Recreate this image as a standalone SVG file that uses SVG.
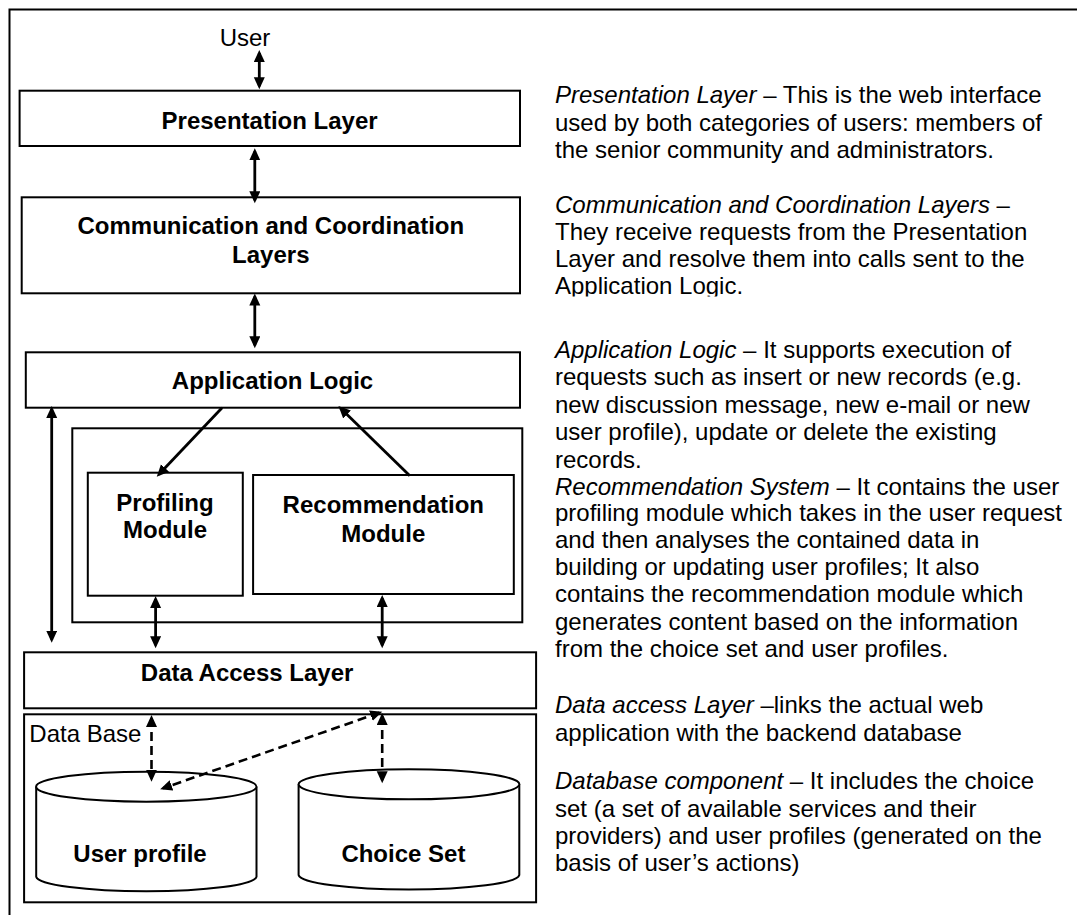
<svg xmlns="http://www.w3.org/2000/svg" width="1077" height="915" viewBox="0 0 1077 915">
  <style>
    text { font-family: "Liberation Sans", Arial, sans-serif; font-size: 24px; fill: #000; }
    .b { font-weight: bold; }
    .mid { text-anchor: middle; }
    .box { fill: #fff; stroke: #000; stroke-width: 2; }
    .frame { fill: none; stroke: #000; stroke-width: 2; }
    .arr { fill: none; stroke: #000; stroke-width: 2.8; marker-start: url(#head); marker-end: url(#head); }
    .one { fill: none; stroke: #000; stroke-width: 2.8; marker-end: url(#head); }
    .dash { fill: none; stroke: #000; stroke-width: 2.6; stroke-dasharray: 9 5; marker-start: url(#head); marker-end: url(#head); }
    .note { font-size: 24px; }
    .it { font-style: italic; }
  </style>
  <defs>
    <marker id="head" markerUnits="userSpaceOnUse" markerWidth="14" markerHeight="12" refX="9" refY="5.5" orient="auto-start-reverse">
      <path d="M0,0 L12,5.5 L0,11 z" fill="#000"/>
    </marker>
    <clipPath id="clipNote2">
      <rect x="540" y="180" width="537" height="116.5"/>
    </clipPath>
  </defs>

  <!-- outer frame (open to the right and bottom) -->
  <path class="frame" d="M9.5,915 V9.5 H1077"/>

  <!-- layers -->
  <g id="user">
    <text class="mid" x="245" y="45.7">User</text>
  </g>
  <g id="presentation-layer">
    <rect class="box" x="19.6" y="90.7" width="500.4" height="55.3"/>
    <text class="b mid" x="269.6" y="129.3">Presentation Layer</text>
  </g>
  <g id="communication-layers">
    <rect class="box" x="21.7" y="197.3" width="498.3" height="96"/>
    <text class="b mid" x="270.8" y="234.3">Communication and Coordination</text>
    <text class="b mid" x="270.8" y="263.3">Layers</text>
  </g>
  <g id="application-logic">
    <rect class="box" x="25.8" y="352.3" width="494.2" height="55.4"/>
    <text class="b mid" x="272.5" y="389.3">Application Logic</text>
  </g>
  <g id="recommendation-system">
    <rect class="box" x="72.3" y="428.3" width="450" height="194"/>
  </g>
  <g id="profiling-module">
    <rect class="box" x="87.8" y="472.7" width="155" height="123"/>
    <text class="b mid" x="165" y="510.7">Profiling</text>
    <text class="b mid" x="165" y="538.3">Module</text>
  </g>
  <g id="recommendation-module">
    <rect class="box" x="253.1" y="475" width="260.7" height="119"/>
    <text class="b mid" x="383.3" y="512.7">Recommendation</text>
    <text class="b mid" x="383.3" y="541.7">Module</text>
  </g>
  <g id="data-access-layer">
    <rect class="box" x="24.1" y="652.3" width="512" height="56"/>
    <text class="b mid" x="247.1" y="680.7">Data Access Layer</text>
  </g>
  <g id="data-base">
    <rect class="box" x="24.1" y="714.3" width="512" height="188"/>
    <text x="29.3" y="741.7">Data Base</text>
  </g>
  <g id="user-profile">
    <path class="box" d="M36.2,786.7 V876.7 A110.2,15 0 0 0 256.5,876.7 V786.7"/>
    <ellipse class="box" cx="146.3" cy="786.7" rx="110.2" ry="15"/>
    <text class="b mid" x="140" y="861.7">User profile</text>
  </g>
  <g id="choice-set">
    <path class="box" d="M298.6,784.3 V875 A110.4,15 0 0 0 519.3,875 V784.3"/>
    <ellipse class="box" cx="409" cy="784.3" rx="110.4" ry="15"/>
    <text class="b mid" x="403.4" y="861.7">Choice Set</text>
  </g>

  <!-- connectors -->
  <g id="connectors">
    <path class="arr" d="M259.3,53 V86.3"/>
    <path class="arr" d="M254.8,151.3 V200.3"/>
    <path class="arr" d="M254.8,296.5 V345.3"/>
    <path class="arr" d="M51.7,409 V639.7"/>
    <path class="one" d="M222.1,407.7 L158.8,474.5"/>
    <path class="one" d="M409.8,475.7 L340.6,408.2"/>
    <path class="arr" d="M155.6,599 V645.3"/>
    <path class="arr" d="M382.2,598 V645.3"/>
    <path class="dash" d="M151.5,718 V778.7"/>
    <path class="dash" d="M379.4,712.7 L163,788.3"/>
    <path class="dash" d="M382.2,716 V780.3"/>
  </g>

  <!-- layer descriptions -->
  <g id="notes">
    <text class="note" x="555" y="102.7"><tspan class="it">Presentation Layer</tspan> – This is the web interface</text>
    <text class="note" x="555" y="130.5">used by both categories of users: members of</text>
    <text class="note" x="555" y="158.3">the senior community and administrators.</text>

    <g clip-path="url(#clipNote2)">
      <text class="note" x="555" y="212.7"><tspan class="it">Communication and Coordination Layers</tspan> –</text>
      <text class="note" x="555" y="240">They receive requests from the Presentation</text>
      <text class="note" x="555" y="267">Layer and resolve them into calls sent to the</text>
      <text class="note" x="555" y="294">Application Logic.</text>
    </g>

    <text class="note" x="555" y="357.7"><tspan class="it">Application Logic</tspan> – It supports execution of</text>
    <text class="note" x="555" y="385.2">requests such as insert or new records (e.g.</text>
    <text class="note" x="555" y="412.7">new discussion message, new e-mail or new</text>
    <text class="note" x="555" y="440.2">user profile), update or delete the existing</text>
    <text class="note" x="555" y="467.7">records.</text>
    <text class="note" x="555" y="494.5"><tspan class="it">Recommendation System</tspan> – It contains the user</text>
    <text class="note" x="555" y="521">profiling module which takes in the user request</text>
    <text class="note" x="555" y="548">and then analyses the contained data in</text>
    <text class="note" x="555" y="575">building or updating user profiles; It also</text>
    <text class="note" x="555" y="602.3">contains the recommendation module which</text>
    <text class="note" x="555" y="629.7">generates content based on the information</text>
    <text class="note" x="555" y="657.2">from the choice set and user profiles.</text>

    <text class="note" x="555" y="713.3"><tspan class="it">Data access Layer</tspan> –links the actual web</text>
    <text class="note" x="555" y="740.7">application with the backend database</text>

    <text class="note" x="555" y="789.3"><tspan class="it">Database component</tspan> – It includes the choice</text>
    <text class="note" x="555" y="816.8">set (a set of available services and their</text>
    <text class="note" x="555" y="844.2">providers) and user profiles (generated on the</text>
    <text class="note" x="555" y="871">basis of user’s actions)</text>
  </g>
</svg>
